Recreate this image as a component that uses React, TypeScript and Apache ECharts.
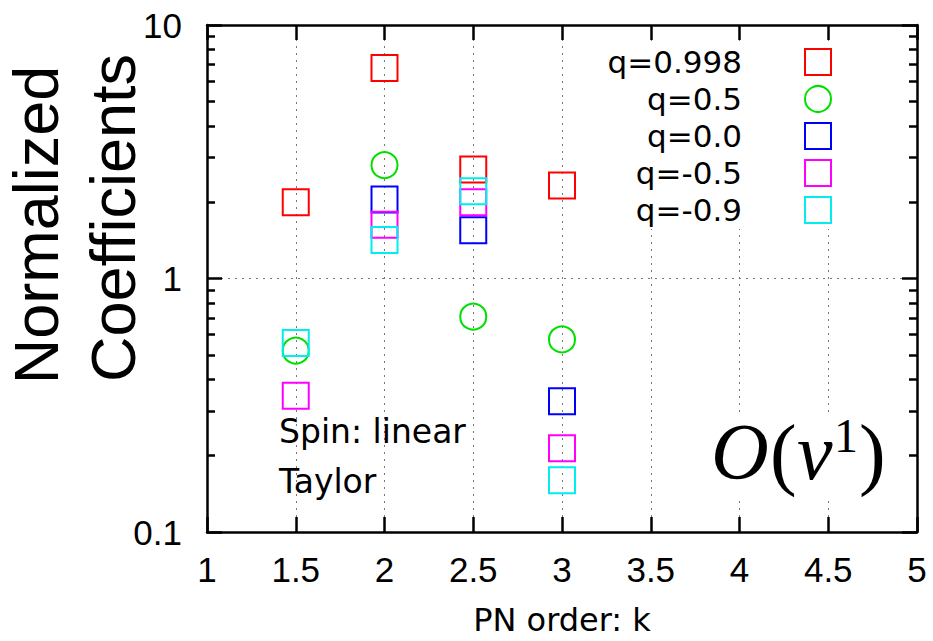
import React, { useEffect, useRef } from 'react';
import * as echarts from 'echarts';

// ---- data ----
const pnOrders = [1.5, 2, 2.5, 3];
const seriesNames = ['q=0.998', 'q=0.5', 'q=0.0', 'q=-0.5', 'q=-0.9'];
const q0998 = [2.0, 6.77, 2.69, 2.33];
const q05 = [0.519, 2.8, 0.707, 0.575];
const q00 = [null, 2.05, 1.55, 0.328];
const qm05 = [0.345, 1.63, 2.0, 0.214];
const qm09 = [0.557, 1.42, 2.21, 0.16];
const seriesValues = [q0998, q05, q00, qm05, qm09];
const seriesColors = ['#ff0000', '#00e000', '#0000ff', '#ff00ff', '#00eeee'];
const seriesSymbols = ['rect', 'circle', 'rect', 'rect', 'rect'];
const xTickMin = 1;
const xTickMax = 5;
const xTickStep = 0.5;
const yMin = 0.1;
const yMax = 10;
const xAxisTitle = 'PN order: k';
const yAxisTitleLines = ['Normalized', 'Coefficients'];
const annotationLines = ['Spin: linear', 'Taylor'];

export default function App() {
  const ref = useRef<HTMLDivElement>(null);
  useEffect(() => {
    const chart = echarts.init(ref.current as HTMLDivElement, null, { renderer: 'svg' });
    const sansTick = 'Liberation Sans';
    const sansText = 'DejaVu Sans';
    const serif = 'Liberation Serif';

    const axisLine = { show: true, lineStyle: { color: '#000', width: 2.5 } };

    const series = seriesNames.map((name, i) => ({
      name,
      type: 'scatter',
      xAxisIndex: 0,
      yAxisIndex: 0,
      symbol: seriesSymbols[i],
      symbolSize: 26,
      itemStyle: { color: 'rgba(0,0,0,0)', borderColor: seriesColors[i], borderWidth: 2, opacity: 1 },
      emphasis: { disabled: true },
      data: pnOrders
        .map((x, j) => [x, seriesValues[i][j]])
        .filter((d) => d[1] !== null),
      z: 3 + i,
    }));

    // legend drawn with graphic (text left, marker right)
    const legendTextX = 742;
    const legendMarkerX = 818;
    const legendRowY0 = 62;
    const legendRowStep = 37;
    const legendGraphics: any[] = [
      {
        type: 'rect',
        shape: { x: 592, y: 43, width: 312, height: 186 },
        style: { fill: '#fff' },
        z: 10,
        silent: true,
      },
    ];
    seriesNames.forEach((name, i) => {
      const cy = legendRowY0 + i * legendRowStep;
      legendGraphics.push({
        type: 'text',
        x: legendTextX,
        y: cy,
        z: 11,
        style: {
          text: name,
          fill: '#000',
          fontSize: 31,
          fontFamily: sansText,
          align: 'right',
          verticalAlign: 'middle',
          textAlign: 'right',
          textVerticalAlign: 'middle',
        },
      });
      if (seriesSymbols[i] === 'circle') {
        legendGraphics.push({
          type: 'circle',
          z: 11,
          shape: { cx: legendMarkerX, cy, r: 13 },
          style: { fill: 'none', stroke: seriesColors[i], lineWidth: 2 },
        });
      } else {
        legendGraphics.push({
          type: 'rect',
          z: 11,
          shape: { x: legendMarkerX - 13, y: cy - 13, width: 26, height: 26 },
          style: { fill: 'none', stroke: seriesColors[i], lineWidth: 2 },
        });
      }
    });

    const txt = (text: string, x: number, y: number, size: number, family: string, extra: any = {}) => ({
      type: 'text',
      x,
      y,
      z: 11,
      ...(extra.rotation !== undefined ? { rotation: extra.rotation } : {}),
      style: {
        text,
        fill: '#000',
        fontSize: size,
        fontFamily: family,
        align: extra.align || 'left',
        verticalAlign: 'middle',
        textAlign: extra.align || 'left',
        textVerticalAlign: 'middle',
        fontStyle: extra.fontStyle || 'normal',
      },
    });

    const graphics: any[] = [
      ...legendGraphics,
      // y-axis title, two rotated lines
      txt(yAxisTitleLines[0], 36, 225, 63, sansTick, { align: 'center', rotation: Math.PI / 2 }),
      txt(yAxisTitleLines[1], 113, 218, 63, sansTick, { align: 'center', rotation: Math.PI / 2 }),
      // annotation
      txt(annotationLines[0], 279, 431, 33, sansText),
      txt(annotationLines[1], 279, 481, 33, sansText),
      // O(nu^1) box
      {
        type: 'rect',
        shape: { x: 706, y: 412, width: 190, height: 86 },
        style: { fill: '#fff' },
        z: 10,
        silent: true,
      },
      txt('O', 711, 452, 80, serif, { fontStyle: 'italic' }),
      txt('(', 770, 453, 80, serif),
      txt('ν', 797, 452, 80, serif, { fontStyle: 'italic' }),
      txt('1', 834, 435, 48, serif),
      txt(')', 859, 453, 80, serif),
    ];

    const option: any = {
      animation: false,
      backgroundColor: '#fff',
      grid: { left: 207, right: 16, top: 25, bottom: 109, containLabel: false },
      xAxis: [
        {
          type: 'value',
          position: 'bottom',
          min: xTickMin,
          max: xTickMax,
          interval: xTickStep,
          name: xAxisTitle,
          nameLocation: 'middle',
          nameGap: 72,
          nameTextStyle: { fontSize: 32, fontFamily: sansText, color: '#000' },
          axisLine,
          axisTick: { show: true, inside: true, length: 15, lineStyle: { color: '#000', width: 2.5 } },
          axisLabel: { show: true, margin: 20, fontSize: 35, fontFamily: sansTick, color: '#000' },
          splitLine: { show: true, lineStyle: { color: '#777', type: [2, 5], width: 1 } },
        },
        {
          type: 'value',
          position: 'top',
          min: xTickMin,
          max: xTickMax,
          interval: xTickStep,
          axisLine,
          axisTick: { show: true, inside: true, length: 15, lineStyle: { color: '#000', width: 2.5 } },
          axisLabel: { show: false },
          splitLine: { show: false },
        },
      ],
      yAxis: [
        {
          type: 'log',
          logBase: 10,
          position: 'left',
          min: yMin,
          max: yMax,
          axisLine,
          axisTick: { show: true, inside: true, length: 15, lineStyle: { color: '#000', width: 2.5 } },
          minorTick: { show: true, splitNumber: 9, length: 8, lineStyle: { color: '#000', width: 2.5 } },
          axisLabel: { show: true, margin: 25, fontSize: 35, fontFamily: sansTick, color: '#000' },
          splitLine: { show: true, lineStyle: { color: '#777', type: [2, 5], width: 1 } },
        },
        {
          type: 'log',
          logBase: 10,
          position: 'right',
          min: yMin,
          max: yMax,
          axisLine,
          axisTick: { show: true, inside: true, length: 15, lineStyle: { color: '#000', width: 2.5 } },
          minorTick: { show: true, splitNumber: 9, length: 8, lineStyle: { color: '#000', width: 2.5 } },
          axisLabel: { show: false },
          splitLine: { show: false },
        },
      ],
      series,
      graphic: graphics,
    };
    chart.setOption(option);
    return () => chart.dispose();
  }, []);
  return (
    <div
      ref={ref}
      style={{ position: 'absolute', left: 0, top: 0, width: 933, height: 641, background: '#fff' }}
    />
  );
}
